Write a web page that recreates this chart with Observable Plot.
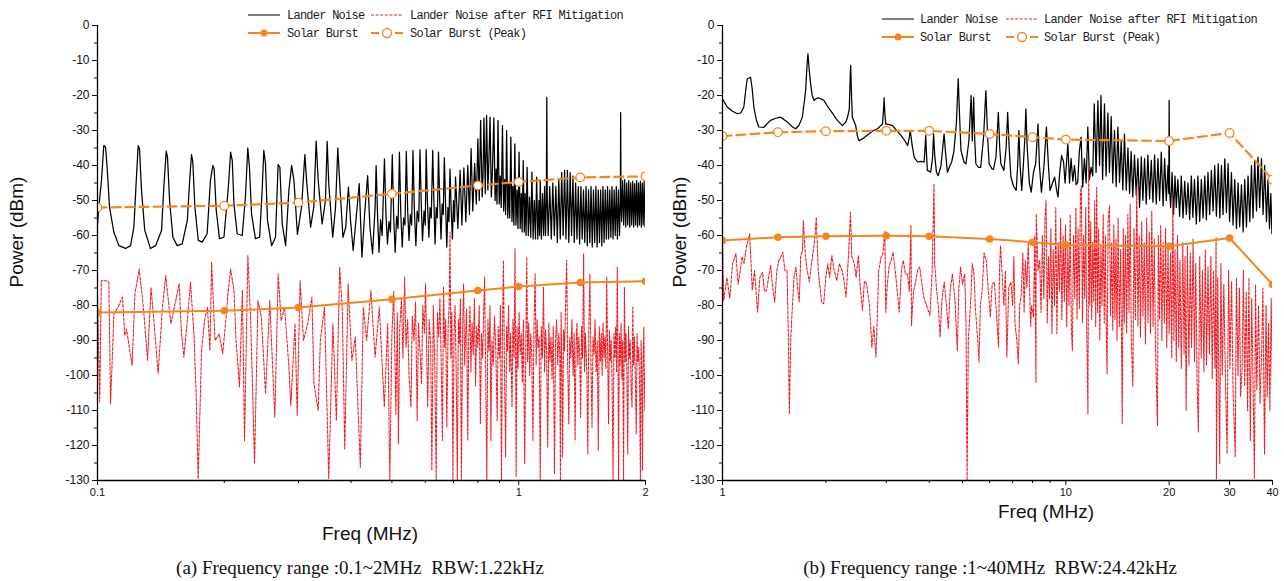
<!DOCTYPE html>
<html><head><meta charset="utf-8">
<script src="https://cdn.jsdelivr.net/npm/d3@7"></script>
<script src="https://cdn.jsdelivr.net/npm/@observablehq/plot@0.6"></script>
<style>
body{margin:0;background:#fff;width:1284px;height:581px;position:relative;overflow:hidden;font-family:"Liberation Sans",Arial,sans-serif;color:#111}
.abs{position:absolute}
.ylab{position:absolute;font-size:19px;transform:translate(-50%,-50%) rotate(-90deg);white-space:nowrap}
.xlab{position:absolute;font-size:19px;transform:translate(-50%,-50%);white-space:nowrap}
.cap{position:absolute;font-family:"Liberation Serif","Times New Roman",serif;font-size:19px;transform:translate(-50%,-50%);white-space:nowrap}
</style></head><body>
<div id="left" class="abs" style="left:0;top:0"></div>
<div id="right" class="abs" style="left:650px;top:0"></div>
<div class="ylab" style="left:17px;top:232px">Power (dBm)</div>
<div class="ylab" style="left:680px;top:232px">Power (dBm)</div>
<div class="xlab" style="left:370px;top:534px">Freq (MHz)</div>
<div class="xlab" style="left:1046px;top:512px">Freq (MHz)</div>
<div class="cap" style="left:360px;top:568px">(a) Frequency range :0.1~2MHz&nbsp;&nbsp;RBW:1.22kHz</div>
<div class="cap" style="left:990px;top:568px">(b) Frequency range :1~40MHz&nbsp;&nbsp;RBW:24.42kHz</div>
<script>
// ---------- DATA ----------
const seriesNames = ["Lander Noise", "Lander Noise after RFI Mitigation", "Solar Burst", "Solar Burst (Peak)"];
const yMajorTicks = [0,-10,-20,-30,-40,-50,-60,-70,-80,-90,-100,-110,-120,-130];
const yMinorTicks = [-5,-15,-25,-35,-45,-55,-65,-75,-85,-95,-105,-115,-125];
const leftMajorX = [0.1, 1, 2];
const leftMinorX = [0.2,0.3,0.4,0.5,0.6,0.7,0.8,0.9];
const rightMajorX = [1, 10, 20, 30, 40];
const rightMinorX = [2,3,4,5,6,7,8,9];

// Solar burst (panel a)
const burstFreqA = [0.1, 0.2, 0.3, 0.5, 0.8, 1.0, 1.4, 2.0];
const burstA     = [-82, -81.5, -80.6, -78.2, -75.7, -74.6, -73.4, -73.1];
const burstPeakA = [-52, -51.5, -50.6, -48.1, -45.7, -44.7, -43.4, -43.1];
// Solar burst (panel b)
const burstFreqB = [1, 1.45, 2, 3, 4, 6, 8, 10, 20, 30, 40];
const burstB     = [-61.4, -60.5, -60.2, -60.1, -60.2, -61, -61.9, -62.7, -63.1, -60.7, -74];
const burstPeakB = [-31.6, -30.5, -30.2, -30.1, -30.1, -31, -31.9, -32.6, -33, -30.7, -44];

// Lander noise, panel a  [MHz, dBm]
const landerA = [
[0.100,-57],[0.1007,-52],[0.1022,-44.3],[0.1035,-34.3],[0.1045,-34.7],[0.1054,-40.5],[0.1068,-51.9],[0.1093,-59],[0.1124,-62.9],[0.1166,-63.7],[0.1198,-62.9],[0.1220,-57.6],[0.1236,-44.3],[0.1249,-34.3],[0.1258,-35.2],[0.1272,-47.1],[0.1295,-58.6],[0.1336,-63.7],[0.1374,-62.9],[0.1419,-58.6],[0.1437,-46.2],[0.1456,-35.9],[0.1466,-37.6],[0.1483,-50],[0.1510,-60.5],[0.1546,-62.9],[0.1589,-62.4],[0.1634,-55.7],[0.1657,-43.3],[0.1672,-36.9],[0.1684,-39.1],[0.1703,-51.9],[0.1735,-61.4],[0.1772,-61.9],[0.1821,-59.5],[0.1854,-44.3],[0.1878,-40],[0.1892,-41],[0.1914,-52.9],[0.1948,-60.9],[0.1996,-60.5],[0.2045,-46.2],[0.2070,-36.2],[0.2089,-38.6],[0.2108,-50.9],[0.2146,-59.5],[0.2206,-60],[0.2245,-49],[0.2274,-35],[0.2295,-40.5],[0.2321,-53.8],[0.2371,-60.9],[0.2426,-60.5],[0.2460,-47.1],[0.2482,-35.7],[0.2505,-39.5],[0.2533,-55.7],[0.2590,-62.9],[0.2646,-60.5],[0.2684,-39.7],[0.2710,-40.5],[0.2745,-56.7],[0.2797,-62.9],[0.2847,-47.1],[0.2890,-40],[0.2927,-44.3],[0.2983,-59.7],[0.3051,-51.9],[0.3107,-36.9],[0.3136,-44.3],[0.3206,-57.6],[0.3262,-51.9],[0.3304,-33],[0.3342,-44.3],[0.3414,-56.7],[0.3477,-50],[0.3510,-33.1],[0.3540,-45.2],[0.3618,-60.5],[0.3674,-51.9],[0.3720,-35],[0.3764,-46.2],[0.3826,-60.5],[0.3885,-57.6],[0.3942,-46.2],[0.3988,-55.7],[0.4046,-64.3],[0.4107,-55.7],[0.4182,-45.2],[0.4244,-66.2],[0.4307,-53.8],[0.4379,-42.9],[0.4434,-57.6],[0.4498,-65.2],[0.4562,-51.9],
[0.4587,-40],[0.4625,-55],[0.4660,-64.8],[0.4700,-55.5],[0.4740,-60],[0.4800,-38.1],[0.4840,-54],[0.4880,-62.4],[0.4920,-56],[0.4960,-59],[0.5010,-36.9],[0.5050,-55],[0.5090,-64.8],[0.5130,-54.5],[0.5170,-58],[0.5210,-36.2],[0.5250,-54],[0.5290,-63.3],[0.5330,-55],[0.5370,-57],[0.5410,-36.0],[0.5450,-53],[0.5490,-61.4],[0.5530,-54],[0.5570,-57],[0.5610,-35.7],[0.5650,-52],[0.5700,-62.9],[0.5740,-53],[0.5790,-56],[0.5830,-35.5],[0.5870,-51],[0.5910,-61.4],[0.5960,-53],[0.6000,-57],[0.6030,-35.5],[0.6070,-50],[0.6120,-60.5],[0.6160,-52],[0.6200,-55],[0.6250,-35.7],[0.6290,-50],[0.6330,-62.4],[0.6370,-52],[0.6410,-55],[0.6450,-36.2],[0.6490,-49],[0.6540,-61],[0.6580,-51],[0.6620,-54],[0.6660,-37.8],[0.6700,-50],[0.6750,-63.3],[0.6790,-52],[0.6830,-56],[0.6870,-41],[0.6910,-52],[0.6960,-61],[0.7000,-50],[0.7040,-56],
[0.708,-43.3],[0.717,-58],[0.726,-41.4],[0.733,-57],[0.741,-40.7],[0.749,-56],[0.757,-40],[0.764,-54],[0.771,-35.2],[0.778,-53],[0.786,-39.4],[0.793,-51],[0.800,-32.4],[0.806,-50],[0.812,-27.1],[0.819,-49],[0.823,-42],[0.827,-26.4],[0.833,-48],[0.839,-25.7],[0.845,-47],[0.849,-40],[0.855,-26.2],[0.861,-49],[0.866,-42],[0.873,-26.4],[0.879,-50],[0.884,-41],[0.888,-51],[0.893,-27.1],[0.899,-51],[0.904,-43],[0.909,-52],[0.915,-28.6],[0.921,-53],[0.926,-44],[0.931,-54],[0.936,-30],[0.942,-55],[0.947,-45],[0.952,-55],[0.958,-31.9],[0.964,-56],[0.969,-46],[0.974,-57],[0.979,-33.8],[0.985,-57],[0.991,-47],[0.996,-58],[1.002,-36.2],[1.008,-58],[1.014,-48],[1.019,-59],[1.025,-38.6],[1.031,-59],[1.036,-48],[1.041,-60],[1.047,-40.5],[1.054,-60],[1.061,-49],[1.068,-60.5],[1.075,-41.9],[1.082,-61],[1.089,-50],[1.096,-61],[1.103,-43.3],[1.110,-61],[1.117,-50],[1.121,-60],[1.125,-44.3],[1.132,-61],[1.139,-48],[1.146,-60],[1.152,-46],[1.158,-60],
[1.163,-50],[1.166,-20.5],[1.169,-50],
[1.175,-60],[1.185,-46],[1.195,-61],[1.205,-45],[1.215,-60],[1.225,-46],[1.235,-62],[1.245,-44],[1.255,-61],[1.265,-42],[1.275,-60],[1.285,-41.4],[1.295,-61],[1.305,-41.4],[1.315,-62],[1.325,-42],[1.335,-60],[1.345,-43],[1.355,-62],[1.365,-45],[1.375,-61],[1.385,-46],[1.395,-62.4],[1.405,-46],[1.415,-61],[1.425,-47],[1.435,-62],[1.445,-46],[1.455,-63],[1.465,-47],[1.475,-62],[1.485,-46],[1.495,-63.3],[1.505,-47],[1.515,-62],[1.525,-46],[1.535,-63.3],[1.545,-47],[1.555,-62],[1.565,-47],[1.575,-63],[1.585,-46],[1.595,-62],[1.605,-47],[1.615,-61],[1.625,-46],[1.635,-61],[1.645,-47],[1.655,-60.5],[1.665,-46],[1.675,-61],[1.685,-47],[1.695,-60],[1.705,-46],[1.715,-61],[1.725,-47],[1.735,-60],
[1.743,-50],[1.746,-24.9],[1.749,-46],
[1.755,-56],[1.765,-44.3],[1.775,-57],[1.785,-44],[1.795,-57.6],[1.805,-45],[1.815,-57],[1.825,-44.3],[1.835,-57.6],[1.845,-45],[1.855,-57],[1.865,-44.5],[1.875,-57.6],[1.885,-45.2],[1.895,-57],[1.905,-44.3],[1.915,-57.6],[1.925,-45],[1.935,-57],[1.945,-44.5],[1.955,-57.6],[1.965,-45],[1.975,-57],[1.985,-44.5],[1.995,-57.6],[2.0,-57]
];

// Lander noise after RFI mitigation, panel a
const mitigA = [
[0.100,-77.6],[0.1012,-107.6],[0.1021,-72.9],[0.1045,-72.9],[0.1064,-73.3],[0.1074,-108.1],[0.1094,-82.4],[0.1119,-80.5],[0.1146,-77.6],[0.1161,-88.6],[0.1172,-86.7],[0.1208,-97.1],[0.1227,-76.7],[0.1256,-69.5],[0.1285,-80.5],[0.1315,-95.7],[0.1340,-74.8],[0.1361,-84.3],[0.1393,-99.5],[0.1426,-80.5],[0.1452,-71.4],[0.1493,-85.2],[0.1528,-79.5],[0.1563,-73.8],[0.1581,-87.1],[0.1603,-94.8],[0.1637,-83.3],[0.1663,-73.3],[0.1694,-88.1],[0.1714,-104.3],[0.1734,-129.5],[0.1766,-92.9],[0.1795,-84.3],[0.1824,-80.5],[0.1849,-92.9],[0.1866,-67.6],[0.1901,-90],[0.1945,-88.1],[0.1982,-93.8],[0.2014,-85.2],[0.2037,-77.6],[0.2070,-69.5],[0.2109,-75.7],[0.2133,-90],[0.2173,-103.3],[0.2208,-75.7],[0.2234,-118.6],[0.2275,-65.7],[0.2312,-85.2],[0.2360,-125.2],[0.2404,-78.6],[0.2449,-83.3],[0.2506,-105.2],[0.2564,-78.6],[0.2636,-111.9],[0.2685,-71],[0.2729,-84.3],[0.2780,-80.5],[0.2844,-96.7],[0.2877,-108.6],[0.2944,-85.2],[0.2979,-111.4],[0.3027,-72.9],[0.3083,-90],[0.3155,-85.2],[0.3228,-77.6],[0.3266,-102.4],[0.3342,-110],[0.3381,-90],[0.3459,-80.5],[0.3540,-129.5],[0.3622,-85.2],[0.3690,-112.9],[0.3758,-69],[0.3811,-80.5],[0.3864,-121],[0.3936,-73.8],[0.4018,-95.7],[0.4093,-89],[0.4207,-126.2],[0.4276,-80.5],[0.4355,-90],[0.4457,-75.7],[0.4560,-94.8],[0.4667,-80.5],[0.4797,-109],[0.4887,-85.2],[0.4943,-130],
[0.500,-88.1],[0.505,-76],[0.511,-111],[0.515,-82],[0.518,-119.5],[0.522,-86],[0.527,-78],[0.531,-95],[0.536,-71.9],[0.540,-92],[0.545,-84],[0.549,-100],[0.555,-109],[0.559,-83],[0.564,-90],[0.569,-79],[0.574,-112.9],[0.578,-85],[0.583,-93],[0.588,-102.4],[0.592,-80],[0.597,-88],[0.601,-73.8],[0.605,-95],[0.608,-109],[0.613,-84],[0.618,-91],[0.622,-127.1],[0.627,-80],[0.632,-97],[0.637,-130],[0.641,-82],[0.646,-89],[0.650,-78],[0.655,-98],[0.659,-118.6],[0.663,-74.8],[0.667,-92],[0.671,-84],[0.675,-114.8],[0.680,-86],[0.684,-79],[0.687,-59],[0.690,-95],[0.694,-82],[0.698,-130],[0.702,-88],[0.706,-80],[0.710,-96],[0.715,-130],[0.719,-84],[0.723,-91],[0.727,-78],[0.731,-130],[0.736,-86],[0.740,-73.8],[0.744,-97],[0.748,-88],[0.752,-81],[0.757,-118.6],[0.761,-90],[0.766,-80],[0.770,-99],[0.775,-85],[0.780,-94],[0.785,-78],[0.790,-103],[0.795,-86],[0.800,-92],[0.806,-80],[0.811,-113.8],[0.816,-88],[0.821,-95],[0.826,-82],[0.830,-71.9],[0.835,-100],[0.840,-130],[0.845,-84],[0.850,-93],[0.855,-80],[0.859,-118.6],[0.864,-90],[0.870,-97],[0.876,-83],[0.882,-92],[0.889,-112.9],[0.894,-86],[0.900,-95],[0.905,-80],[0.910,-130],[0.915,-88],[0.920,-67.1],[0.925,-97],[0.931,-123.3],[0.936,-86],[0.941,-93],[0.946,-80],[0.952,-99],[0.957,-88],[0.964,-109],[0.969,-84],[0.975,-95],[0.980,-63.8],[0.983,-92],[0.986,-129],[0.991,-86],[0.996,-98],
[1.002,-82],[1.008,-94],[1.014,-88],[1.020,-102],[1.026,-84],[1.033,-125.2],[1.040,-90],[1.045,-66.2],[1.050,-96],[1.056,-85],[1.062,-100],[1.068,-88],[1.074,-94],[1.081,-118.6],[1.087,-86],[1.094,-71],[1.100,-97],[1.106,-84],[1.112,-92],[1.118,-89],[1.125,-130],[1.131,-86],[1.138,-95],[1.145,-74.8],[1.152,-99],[1.158,-87],[1.165,-93],[1.172,-120.5],[1.179,-85],[1.186,-96],[1.193,-89],[1.200,-101],[1.208,-86],[1.216,-128.1],[1.223,-90],[1.230,-84],[1.238,-97],[1.245,-88],[1.252,-94],[1.256,-130],[1.261,-82],[1.266,-96],[1.271,-123.3],[1.278,-87],[1.285,-93],[1.292,-80],[1.300,-67.1],[1.307,-97],[1.315,-113.8],[1.322,-89],[1.330,-95],[1.338,-84],[1.346,-100],[1.354,-88],[1.361,-118.6],[1.368,-92],[1.375,-85],[1.382,-97],[1.389,-89],[1.396,-94],[1.403,-111.9],[1.410,-86],[1.418,-95],[1.426,-65.2],[1.433,-99],[1.440,-88],[1.446,-93],[1.452,-101],[1.459,-122.4],[1.467,-87],[1.476,-71],[1.484,-96],[1.493,-114.8],[1.501,-89],[1.510,-94],[1.518,-84],[1.527,-99],[1.536,-90],[1.545,-121.4],[1.553,-86],[1.562,-96],[1.570,-88],[1.578,-100],[1.586,-85],[1.594,-95],[1.602,-89],[1.610,-98],[1.618,-71.9],[1.626,-93],[1.634,-113.8],[1.642,-87],[1.650,-96],[1.658,-90],[1.666,-102],[1.675,-130],[1.683,-88],[1.691,-95],[1.699,-86],[1.707,-99],[1.714,-69],[1.720,-92],[1.726,-130],[1.734,-88],[1.742,-97],[1.750,-85],[1.758,-101],[1.766,-90],[1.774,-130],[1.782,-74.8],[1.790,-96],[1.798,-88],[1.806,-99],[1.815,-122.4],[1.823,-86],[1.831,-95],[1.840,-90],[1.849,-103],[1.858,-109],[1.866,-80.5],[1.874,-97],[1.883,-89],[1.892,-100],[1.901,-116.7],[1.910,-88],[1.919,-96],[1.928,-92],[1.937,-104],[1.945,-130],[1.952,-90],[1.960,-98],[1.968,-127.1],[1.975,-94],[1.982,-86.2],[1.988,-102],[1.994,-110],[2.000,-99.5]
];

// Lander noise, panel b
const landerB = [
[1.000,-21],[1.032,-23.3],[1.070,-24.5],[1.104,-25.2],[1.130,-25],[1.154,-23.3],[1.170,-18],[1.181,-15.2],[1.207,-14.8],[1.220,-18],[1.234,-23.3],[1.255,-27],[1.276,-29],[1.320,-29.1],[1.350,-28],[1.380,-27.1],[1.430,-26.5],[1.477,-26.2],[1.545,-27.6],[1.600,-29],[1.633,-29.5],[1.670,-28.5],[1.708,-26.2],[1.730,-22],[1.746,-18.6],[1.764,-11],[1.774,-8.1],[1.790,-13],[1.806,-16.7],[1.825,-20],[1.847,-21.4],[1.880,-20.8],[1.910,-20.7],[1.975,-21.4],[2.020,-23],[2.065,-24.3],[2.161,-27.1],[2.236,-28.6],[2.290,-27.5],[2.313,-26.2],[2.340,-24],[2.358,-13],[2.363,-11.4],[2.372,-18],[2.389,-26.2],[2.443,-28.6],[2.470,-31.5],[2.497,-32.9],[2.555,-32.4],[2.673,-30.9],[2.750,-30],[2.829,-29.5],[2.925,-28.1],[2.945,-24],[2.957,-20.7],[2.970,-25],[2.990,-28.1],[3.060,-28.3],[3.128,-28.6],[3.308,-31.4],[3.400,-33],[3.461,-34.3],[3.500,-32],[3.522,-30],[3.545,-32],[3.563,-33.8],[3.617,-37.6],[3.699,-39],[3.781,-38.8],[3.865,-39],[3.890,-35],[3.908,-31.4],[3.925,-36],[3.951,-41.4],[4.040,-41.9],[4.090,-38],[4.120,-31],[4.150,-37],[4.200,-42],[4.250,-42.9],[4.330,-40],[4.380,-35],[4.420,-31],[4.460,-36],[4.520,-41.9],[4.600,-40],[4.650,-39],[4.720,-36],[4.800,-28],[4.860,-15.2],[4.900,-25],[4.950,-35.7],[5.050,-39],[5.120,-39.5],[5.220,-33],[5.300,-20],[5.340,-33],[5.390,-20.5],[5.430,-33],[5.470,-39.5],[5.560,-40.5],[5.650,-40.5],[5.760,-32],[5.850,-18.6],[5.920,-32],[5.980,-39.5],[6.100,-41],[6.160,-41],[6.260,-37.6],[6.360,-24.8],[6.420,-35],[6.470,-39.5],[6.600,-41.4],[6.700,-35],[6.770,-24.8],[6.840,-35],[6.920,-43.3],[7.050,-46],[7.170,-47.1],[7.240,-40],[7.300,-30],[7.360,-40],[7.440,-47.1],[7.520,-40],[7.600,-32],[7.650,-23.8],[7.720,-35],[7.830,-45],[7.930,-47.6],[8.050,-42],[8.170,-39.5],[8.300,-28.1],[8.380,-40],[8.490,-47.6],[8.640,-40],[8.780,-29],[8.900,-40],[9.000,-47.1],[9.150,-45],[9.280,-43.3],[9.400,-47],[9.490,-49],[9.600,-42],[9.720,-37.1],[9.850,-39],[9.950,-45],
[10.14,-33.8],[10.25,-45],[10.36,-38],[10.48,-44.5],[10.60,-40],[10.72,-45.5],[10.83,-44.8],[10.95,-36],[11.08,-31.9],[11.20,-46.2],[11.33,-38],[11.46,-45],[11.59,-29],[11.72,-44],[11.85,-40.5],[11.98,-43],[12.10,-22.4],[12.25,-42],[12.40,-21.5],[12.54,-40],[12.66,-20],[12.80,-44],[12.96,-22.4],[13.10,-43],[13.26,-25],[13.40,-42],[13.56,-26],[13.70,-45],[13.86,-30],[14.02,-46],[14.18,-29],[14.34,-44.8],[14.50,-33],[14.66,-47],[14.82,-31],[15.00,-47.1],[15.17,-35],[15.34,-48],[15.50,-36],[15.67,-49],[15.85,-37],[16.04,-48.5],[16.22,-38],[16.40,-51.9],[16.59,-37.5],[16.77,-50],[16.96,-38],[17.15,-51],[17.34,-37],[17.54,-49.5],[17.74,-38.5],[17.94,-50.5],[18.14,-37],[18.34,-51],[18.55,-38],[18.76,-50],[18.97,-36.2],[19.20,-51.5],[19.40,-38],[19.62,-50],[19.85,-40],[19.95,-48],[20.00,-21.4],[20.06,-47],[20.20,-52],[20.40,-42],[20.60,-54],[20.80,-43],[20.98,-52],[21.20,-44],[21.45,-54.5],[21.70,-43],[21.95,-55],[22.20,-44.5],[22.44,-54],[22.70,-45],[22.95,-55.5],[23.21,-43],[23.45,-54.8],[23.70,-44],[24.00,-56.7],[24.25,-43],[24.55,-56],[24.82,-44],[25.10,-55],[25.40,-43],[25.67,-55.5],[25.95,-42],[26.25,-54],[26.55,-41.4],[26.85,-53],[27.15,-40],[27.46,-54.5],[27.80,-39.5],[28.10,-55],[28.40,-40],[28.70,-54],[29.05,-38.1],[29.37,-53.5],[29.70,-39.5],[30.00,-56],[30.37,-42],[30.70,-57],[31.05,-44],[31.41,-58],[31.75,-45],[32.10,-57.5],[32.48,-45.5],[32.85,-59],[33.20,-44],[33.59,-57.6],[33.95,-43],[34.35,-56],[34.74,-40],[35.10,-55],[35.50,-38.5],[35.93,-53],[36.30,-37.6],[36.70,-52],[37.15,-38],[37.55,-54],[37.95,-40],[38.42,-56],[38.80,-44],[39.20,-58],[39.55,-48],[39.85,-59.5],[40.00,-57]
];

// Lander noise after RFI mitigation, panel b
const mitigB = [
[1.000,-61],[1.008,-78.6],[1.030,-72],[1.050,-78],[1.070,-68],[1.094,-65.2],[1.110,-74],[1.125,-70.5],[1.140,-66],[1.156,-68],[1.175,-63],[1.188,-61.4],[1.200,-59.5],[1.221,-75.7],[1.240,-70],[1.265,-81.9],[1.285,-72],[1.308,-70.5],[1.325,-76],[1.344,-75.7],[1.362,-72],[1.381,-68.6],[1.400,-75],[1.419,-79],[1.440,-70],[1.459,-67.1],[1.480,-66],[1.499,-64.8],[1.520,-70],[1.541,-70],[1.555,-88],[1.566,-111],[1.580,-90],[1.592,-83.3],[1.615,-72],[1.637,-69],[1.655,-75],[1.673,-79],[1.690,-66],[1.710,-64.3],[1.720,-55.7],[1.743,-65.7],[1.765,-70],[1.790,-73.3],[1.815,-68],[1.840,-64.3],[1.860,-60],[1.876,-54.8],[1.900,-70],[1.944,-79],[1.971,-79.5],[2.000,-72],[2.026,-68.1],[2.050,-72],[2.082,-65.7],[2.115,-70],[2.153,-72.9],[2.190,-68],[2.229,-70],[2.260,-73],[2.291,-77.6],[2.330,-65],[2.360,-53.3],[2.380,-66],[2.420,-68.1],[2.450,-72],[2.488,-65.7],[2.520,-75],[2.557,-81.4],[2.590,-73],[2.628,-73.8],[2.680,-80],[2.723,-91.9],[2.760,-86],[2.799,-94.8],[2.830,-80],[2.852,-70],[2.900,-66],[2.932,-65.2],[2.970,-58.8],[2.990,-82],[3.020,-74],[3.055,-69],[3.100,-67],[3.140,-64.8],[3.200,-72],[3.271,-81.9],[3.320,-70],[3.362,-67.1],[3.410,-71],[3.456,-71],[3.500,-76],[3.540,-57.1],[3.552,-85.7],[3.600,-76],[3.651,-73.3],[3.700,-70],[3.753,-69],[3.800,-73],[3.857,-77.6],[3.930,-80],[4.019,-82.9],[4.080,-70],[4.131,-45.2],[4.150,-68],[4.200,-75],[4.250,-80],[4.305,-89],[4.360,-78],[4.425,-73.3],[4.490,-80],[4.548,-86.7],[4.610,-75],[4.675,-71],[4.750,-78],[4.832,-92.9],[4.880,-75],[4.938,-69],[5.000,-74],[5.075,-71],[5.120,-85],[5.159,-130],[5.200,-90],[5.290,-77.6],[5.340,-68],[5.400,-71],[5.450,-80],[5.492,-85.2],[5.540,-90],[5.585,-96.2],[5.640,-80],[5.705,-75.7],[5.780,-65],[5.864,-67.1],[5.940,-75],[6.027,-83.3],[6.100,-74],[6.195,-73.3],[6.280,-82],[6.367,-91.9],[6.410,-70],[6.455,-62.9],[6.530,-72],[6.600,-80],[6.670,-70],[6.734,-94.8],[6.820,-75],[6.921,-73.3],[7.000,-80],[7.060,-66],[7.114,-85.2],[7.200,-90],[7.272,-96.7],[7.340,-80],[7.416,-76.7],[7.500,-65],[7.560,-82],[7.622,-67.1],[7.700,-75],[7.770,-62],[7.834,-73.3],[7.900,-86],[7.950,-80],[8.052,-83.3],[8.120,-60],[8.186,-101.9],[8.200,-53.8],[8.300,-70],[8.392,-67.1],
[8.47,-82],[8.55,-60],[8.63,-78],[8.70,-55],[8.76,-50],[8.83,-85],[8.90,-66],[8.97,-78],[9.05,-58],[9.11,-88],[9.19,-64],[9.27,-80],[9.35,-52],[9.42,-88],[9.50,-62],[9.58,-76],[9.66,-55],[9.74,-84],[9.82,-60],[9.90,-79],[9.98,-57],[10.06,-86],[10.14,-63],[10.22,-80],[10.30,-54],[10.38,-87],[10.45,-92.9],[10.53,-60],[10.62,-78],[10.70,-52],[10.78,-84],[10.86,-58],[10.95,-81],[11.03,-48],[11.10,-45.7],[11.18,-85],[11.26,-60],[11.35,-78],[11.43,-52],[11.51,-88],[11.60,-111],[11.66,-40.5],[11.74,-80],[11.82,-56],[11.90,-84],[11.98,-62],[12.06,-79],[12.14,-50],[12.22,-86],[12.30,-46.2],[12.38,-82],[12.47,-58],[12.56,-90],[12.66,-63],[12.75,-80],[12.85,-54],[12.94,-85],[13.04,-60],[13.12,-88],[13.19,-99.5],[13.28,-56],[13.40,-51.4],[13.50,-83],[13.60,-62],[13.70,-87],[13.80,-57],[13.90,-84],[14.00,-61],[14.10,-90],[14.20,-55],[14.32,-86],[14.45,-64],[14.60,-113.8],[14.70,-58],[14.80,-85],[14.92,-60],[15.04,-88],[15.16,-54],[15.28,-82],[15.40,-51],[15.52,-90],[15.68,-103.3],[15.80,-58],[15.95,-84],[16.10,-46.2],[16.22,-86],[16.36,-60],[16.50,-89],[16.64,-56],[16.78,-83],[16.92,-62],[17.06,-91],[17.20,-55],[17.36,-85],[17.50,-59],[17.65,-88],[17.80,-53],[17.95,-86],[18.10,-61],[18.25,-92],[18.49,-114.3],[18.60,-60],[18.75,-84],[18.90,-57],[19.05,-90],[19.20,-62],[19.37,-85],[19.52,-58],[19.68,-92],[19.85,-63],[20.00,-88],[20.19,-65],[20.35,-95],[20.50,-50],[20.65,-90],[20.80,-64],[20.98,-96],[21.15,-60],[21.33,-92],[21.50,-67],[21.70,-98],[21.92,-62],[22.10,-94],[22.25,-66],[22.41,-110],[22.60,-63],[22.84,-97],[23.05,-65],[23.25,-92],[23.48,-61],[23.70,-96],[23.90,-68],[24.10,-100],[24.33,-116.2],[24.55,-66],[24.80,-95],[25.00,-70],[25.25,-99],[25.49,-64],[25.70,-97],[25.95,-69],[26.20,-94],[26.45,-66],[26.70,-101],[26.93,-70],[27.20,-98],[27.40,-60.5],[27.46,-129.5],[27.70,-72],[28.07,-125.2],[28.30,-68],[28.55,-100],[28.86,-74],[29.20,-103],[29.50,-122.4],[29.80,-70],[30.07,-98],[30.40,-73],[30.70,-104],[31.15,-123.3],[31.40,-72],[31.74,-100],[32.05,-75],[32.30,-106],[32.63,-98],[32.90,-70],[33.20,-103],[33.54,-76],[33.85,-110],[34.15,-72],[34.47,-118.6],[34.80,-78],[35.10,-101],[35.43,-129.5],[35.70,-74],[36.00,-104],[36.42,-80],[36.80,-108],[37.13,-96],[37.50,-75],[37.91,-122.4],[38.30,-80],[38.60,-106],[38.96,-85],[39.30,-110],[39.65,-78],[40.00,-106]
];

// ---------- STYLE ----------
const BLACK = "#000000", RED = "#ec1c24", ORANGE = "#f6851f";

function toRows(freqs, vals) { return freqs.map((f, i) => ({f, v: vals[i]})); }

function panel({lander, mitig, freqs, burst, peak, xDomain, majorX, minorX, width, marginLeft, marginRight}) {
  const burstRows = toRows(freqs, burst);
  const peakRows = toRows(freqs, peak);
  const X = d => d[0], Y = d => d[1];
  return Plot.plot({
    width, height: 500, marginLeft, marginRight, marginTop: 25, marginBottom: 20,
    style: {background: "transparent", fontFamily: "'Liberation Sans', Arial, sans-serif", fontSize: "12px", color: "#111", overflow: "visible"},
    x: {type: "log", domain: xDomain, axis: null},
    y: {domain: [-130, 0], axis: null},
    marks: [
      Plot.line(lander, {x: X, y: Y, stroke: BLACK, strokeWidth: 1.25, clip: true}),
      Plot.line(mitig, {x: X, y: Y, stroke: RED, strokeWidth: 1.05, strokeDasharray: "3,1.5", clip: true}),
      Plot.line(peakRows, {x: "f", y: "v", stroke: ORANGE, strokeWidth: 2.2, strokeDasharray: "9,5", clip: true}),
      Plot.dot(peakRows, {x: "f", y: "v", fill: "white", stroke: ORANGE, strokeWidth: 1.3, r: 4.3, clip: true}),
      Plot.line(burstRows, {x: "f", y: "v", stroke: ORANGE, strokeWidth: 2, clip: true}),
      Plot.dot(burstRows, {x: "f", y: "v", fill: ORANGE, stroke: ORANGE, r: 3, clip: true}),
      Plot.axisY({ticks: yMajorTicks, tickSize: 5, tickPadding: 3, tickFormat: d => String(d), label: null, fontSize: 12}),
      Plot.axisY({ticks: yMinorTicks, tickSize: 3, tickFormat: () => "", label: null}),
      Plot.axisX({ticks: majorX, tickSize: 5, tickPadding: 3, tickFormat: d => String(d), label: null, fontSize: 11}),
      Plot.axisX({ticks: minorX, tickSize: 3, tickFormat: () => "", label: null}),
      Plot.ruleX([xDomain[0]], {stroke: BLACK, strokeWidth: 1.3}),
      Plot.ruleY([-130], {stroke: BLACK, strokeWidth: 1.3})
    ]
  });
}

document.getElementById("left").append(panel({
  lander: landerA, mitig: mitigA, freqs: burstFreqA, burst: burstA, peak: burstPeakA,
  xDomain: [0.1, 2], majorX: leftMajorX, minorX: leftMinorX, width: 650, marginLeft: 97, marginRight: 5
}));
document.getElementById("right").append(panel({
  lander: landerB, mitig: mitigB, freqs: burstFreqB, burst: burstB, peak: burstPeakB,
  xDomain: [1, 40], majorX: rightMajorX, minorX: rightMinorX, width: 634, marginLeft: 72, marginRight: 12
}));

// ---------- LEGENDS ----------
const overlay = d3.select("body").append("svg")
  .attr("width", 1284).attr("height", 60)
  .style("position", "absolute").style("left", "0px").style("top", "0px").style("pointer-events", "none");

function legend(x0, y0, dy, col2, gap) {
  const g = overlay.append("g")
    .attr("font-family", "'Liberation Mono', monospace").attr("font-size", 12)
    .attr("letter-spacing", "-0.75").attr("fill", "#222");
  const y1 = y0, y2 = y0 + dy;
  g.append("line").attr("x1", x0).attr("x2", x0 + 32).attr("y1", y1).attr("y2", y1).attr("stroke", BLACK).attr("stroke-width", 1);
  g.append("text").attr("x", x0 + gap).attr("y", y1 + 4).text(seriesNames[0]);
  g.append("line").attr("x1", x0 + col2).attr("x2", x0 + col2 + 32).attr("y1", y1).attr("y2", y1).attr("stroke", RED).attr("stroke-dasharray", "3,1.6");
  g.append("text").attr("x", x0 + col2 + gap).attr("y", y1 + 4).text(seriesNames[1]);
  g.append("line").attr("x1", x0).attr("x2", x0 + 32).attr("y1", y2).attr("y2", y2).attr("stroke", ORANGE).attr("stroke-width", 2);
  g.append("circle").attr("cx", x0 + 16).attr("cy", y2).attr("r", 3.5).attr("fill", ORANGE);
  g.append("text").attr("x", x0 + gap).attr("y", y2 + 4).text(seriesNames[2]);
  g.append("line").attr("x1", x0 + col2).attr("x2", x0 + col2 + 32).attr("y1", y2).attr("y2", y2).attr("stroke", ORANGE).attr("stroke-width", 2).attr("stroke-dasharray", "8,4");
  g.append("circle").attr("cx", x0 + col2 + 16).attr("cy", y2).attr("r", 4.5).attr("fill", "white").attr("stroke", ORANGE).attr("stroke-width", 1.3);
  g.append("text").attr("x", x0 + col2 + gap).attr("y", y2 + 4).text(seriesNames[3]);
}
legend(248, 15, 18, 123, 39);
legend(882, 19, 18, 124, 38);
</script>
</body></html>
